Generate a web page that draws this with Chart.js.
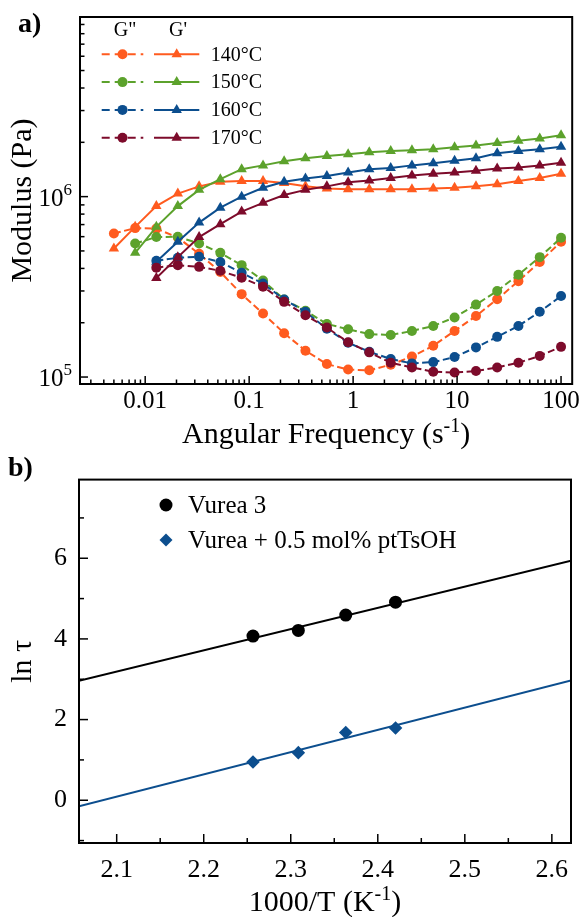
<!DOCTYPE html>
<html>
<head>
<meta charset="utf-8">
<title>Frequency sweep and Arrhenius plot</title>
<script src="https://cdn.jsdelivr.net/npm/chart.js@4.4.1/dist/chart.umd.min.js"></script>
<style>
  html, body { margin: 0; padding: 0; background: #fff; }
  #figure { position: relative; width: 582px; height: 917px; overflow: hidden; }
  #figure canvas { position: absolute; left: 0; }
  #sweep { top: 0; }
  #arrhenius { top: 452px; }
</style>
</head>
<body>
<div id="figure">
  <canvas id="sweep" width="582" height="452"></canvas>
  <canvas id="arrhenius" width="582" height="465"></canvas>
</div>
<script>
/* =====================
Data
===================== */

// angular frequency sweep, 22 points from 0.005 to 100 rad/s
var freq = [0.005, 0.00801, 0.0128, 0.0206, 0.0330, 0.0528, 0.0847, 0.136, 0.217, 0.348, 0.559,
            0.895, 1.43, 2.30, 3.68, 5.90, 9.46, 15.2, 24.3, 38.9, 62.4, 100];

var temps = ['140°C', '150°C', '160°C', '170°C'];
var tempColors = ['#ff5b1f', '#5ca22c', '#0c4e8e', '#7d0b2b'];
// index into freq of the first measured point at each temperature
var firstPoint = [0, 1, 2, 2];

// storage modulus G' (Pa)
var gp140 = [5.16e5, 6.80e5, 8.86e5, 1.04e6, 1.14e6, 1.21e6, 1.22e6, 1.22e6, 1.19e6, 1.14e6, 1.11e6,
             1.10e6, 1.10e6, 1.10e6, 1.10e6, 1.11e6, 1.12e6, 1.14e6, 1.17e6, 1.22e6, 1.27e6, 1.34e6];
var gp150 = [4.88e5, 6.80e5, 8.86e5, 1.09e6, 1.25e6, 1.42e6, 1.49e6, 1.57e6, 1.63e6, 1.68e6, 1.72e6,
             1.76e6, 1.79e6, 1.81e6, 1.83e6, 1.88e6, 1.92e6, 1.98e6, 2.04e6, 2.10e6, 2.19e6];
var gp160 = [4.35e5, 5.62e5, 7.18e5, 8.69e5, 1.00e6, 1.12e6, 1.21e6, 1.26e6, 1.30e6, 1.36e6,
             1.42e6, 1.44e6, 1.49e6, 1.53e6, 1.58e6, 1.63e6, 1.74e6, 1.79e6, 1.83e6, 1.89e6];
var gp170 = [3.54e5, 4.62e5, 5.97e5, 7.04e5, 8.26e5, 9.24e5, 1.02e6, 1.09e6, 1.14e6, 1.20e6,
             1.23e6, 1.27e6, 1.31e6, 1.34e6, 1.36e6, 1.39e6, 1.43e6, 1.45e6, 1.49e6, 1.54e6];

// loss modulus G'' (Pa)
var gpp140 = [6.25e5, 6.69e5, 6.65e5, 5.93e5, 4.82e5, 3.82e5, 2.88e5, 2.25e5, 1.75e5, 1.40e5, 1.18e5,
              1.10e5, 1.09e5, 1.17e5, 1.30e5, 1.49e5, 1.80e5, 2.18e5, 2.70e5, 3.40e5, 4.34e5, 5.62e5];
var gpp150 = [5.50e5, 5.97e5, 5.99e5, 5.50e5, 4.88e5, 4.17e5, 3.43e5, 2.69e5, 2.33e5, 1.97e5, 1.84e5,
              1.73e5, 1.71e5, 1.80e5, 1.92e5, 2.14e5, 2.52e5, 3.00e5, 3.69e5, 4.62e5, 5.91e5];
var gpp160 = [4.41e5, 4.58e5, 4.64e5, 4.34e5, 3.78e5, 3.30e5, 2.69e5, 2.30e5, 1.85e5, 1.55e5,
              1.38e5, 1.26e5, 1.19e5, 1.21e5, 1.29e5, 1.46e5, 1.67e5, 1.92e5, 2.30e5, 2.81e5];
var gpp170 = [4.04e5, 4.17e5, 4.08e5, 3.88e5, 3.55e5, 3.17e5, 2.61e5, 2.20e5, 1.88e5, 1.56e5,
              1.37e5, 1.20e5, 1.13e5, 1.07e5, 1.06e5, 1.08e5, 1.13e5, 1.20e5, 1.31e5, 1.47e5];

var xTicksA = [0.01, 0.1, 1, 10, 100];
var xTickLabelsA = ['0.01', '0.1', '1', '10', '100'];
var yTicksA = [1e5, 1e6];
var yTickExpA = ['5', '6'];

// relaxation times vs inverse temperature
var invT = [2.2566, 2.3087, 2.3632, 2.4204];
var lnTauVurea = [4.07, 4.21, 4.59, 4.91];
var lnTauAcid = [0.95, 1.18, 1.68, 1.79];
// linear fits, evaluated at the axis limits
var fitX = [2.0567, 2.622];
var fitVurea = [2.96, 5.94];
var fitAcid = [-0.15, 2.97];
var seriesB = ['Vurea 3', 'Vurea + 0.5 mol% ptTsOH'];
var colorsB = ['#000000', '#0c4e8e'];

var xTicksB = [2.1, 2.2, 2.3, 2.4, 2.5, 2.6];
var xTickLabelsB = ['2.1', '2.2', '2.3', '2.4', '2.5', '2.6'];
var xMinorB = [2.15, 2.25, 2.35, 2.45, 2.55];
var yTicksB = [0, 2, 4, 6];
var yTickLabelsB = ['0', '2', '4', '6'];
var yMinorB = [-1, 1, 3, 5, 7];


/* =====================
Helpers
===================== */

var SERIF = "'Liberation Serif', 'Times New Roman', serif";

function line(ctx, x1, y1, x2, y2) {
  ctx.beginPath();
  ctx.moveTo(x1, y1);
  ctx.lineTo(x2, y2);
  ctx.stroke();
}

// all decade and sub-decade tick values inside [min, max]
function logTicks(min, max) {
  var out = [];
  for (var e = Math.floor(Math.log10(min)); e <= Math.ceil(Math.log10(max)); e++) {
    for (var m = 1; m <= 9; m++) {
      var v = m * Math.pow(10, e);
      if (v >= min && v <= max) out.push({v: v, major: m === 1});
    }
  }
  return out;
}

// axis title with an optional superscript part
function drawTitle(ctx, text, sup, tail, px, py, size, rotate) {
  ctx.save();
  ctx.translate(px, py);
  if (rotate) ctx.rotate(-Math.PI / 2);
  var big = size + 'px ' + SERIF;
  var small = Math.round(size * 0.66) + 'px ' + SERIF;
  ctx.font = big;
  var w1 = ctx.measureText(text).width;
  var w3 = ctx.measureText(tail).width;
  ctx.font = small;
  var w2 = sup ? ctx.measureText(sup).width : 0;
  var x = -(w1 + w2 + w3) / 2;
  ctx.fillStyle = '#000';
  ctx.textAlign = 'left';
  ctx.textBaseline = 'alphabetic';
  ctx.font = big;
  ctx.fillText(text, x, 0);
  if (sup) {
    ctx.font = small;
    ctx.fillText(sup, x + w1, -size * 0.36);
  }
  ctx.font = big;
  ctx.fillText(tail, x + w1 + w2, 0);
  ctx.restore();
}

function drawFrame(ctx, a) {
  ctx.strokeStyle = '#000';
  ctx.lineWidth = 2;
  ctx.strokeRect(a.left, a.top, a.right - a.left, a.bottom - a.top);
}


/* =====================
a) frequency sweep
===================== */

var gpAll = [gp140, gp150, gp160, gp170];
var gppAll = [gpp140, gpp150, gpp160, gpp170];

var sweepSets = [];
temps.forEach(function (t, i) {
  var f = freq.slice(firstPoint[i]);
  sweepSets.push({
    label: 'G\'\' ' + t,
    data: f.map(function (v, j) { return {x: v, y: gppAll[i][j]}; }),
    showLine: true,
    borderColor: tempColors[i],
    backgroundColor: tempColors[i],
    borderWidth: 2,
    borderDash: [7, 3.5],
    pointStyle: 'circle',
    pointRadius: 5,
    pointBorderWidth: 0
  });
  sweepSets.push({
    label: 'G\' ' + t,
    data: f.map(function (v, j) { return {x: v, y: gpAll[i][j]}; }),
    showLine: true,
    borderColor: tempColors[i],
    backgroundColor: tempColors[i],
    borderWidth: 2,
    pointStyle: 'triangle',
    pointRadius: 6,
    pointBorderWidth: 0
  });
});
// later temperatures sit on top
sweepSets.forEach(function (d, i) { d.order = -i; });

var sweepDecor = {
  id: 'sweepDecor',
  afterDraw: function (chart) {
    var ctx = chart.ctx, a = chart.chartArea;
    var xs = chart.scales.x, ys = chart.scales.y;
    ctx.save();

    // inward ticks on bottom and left spines
    ctx.strokeStyle = '#000';
    ctx.lineWidth = 1.5;
    logTicks(xs.min, xs.max).forEach(function (t) {
      var px = xs.getPixelForValue(t.v);
      line(ctx, px, a.bottom, px, a.bottom - (t.major ? 8 : 4.5));
    });
    logTicks(ys.min, ys.max).forEach(function (t) {
      var py = ys.getPixelForValue(t.v);
      line(ctx, a.left, py, a.left + (t.major ? 8 : 4.5), py);
    });
    drawFrame(ctx, a);

    // y tick labels as powers of ten
    ctx.fillStyle = '#000';
    ctx.textBaseline = 'alphabetic';
    yTicksA.forEach(function (v, i) {
      var py = ys.getPixelForValue(v);
      ctx.font = '17px ' + SERIF;
      var ws = ctx.measureText(yTickExpA[i]).width;
      var right = a.left - 8;
      ctx.textAlign = 'left';
      ctx.fillText(yTickExpA[i], right - ws, py - 2);
      ctx.font = '25px ' + SERIF;
      ctx.textAlign = 'right';
      ctx.fillText('10', right - ws, py + 9);
    });

    drawTitle(ctx, 'Angular Frequency (s', '-1', ')', (a.left + a.right) / 2, 443, 30, false);
    drawTitle(ctx, 'Modulus (Pa)', '', '', 31, (a.top + a.bottom) / 2, 30, true);

    ctx.font = 'bold 28px ' + SERIF;
    ctx.textAlign = 'left';
    ctx.fillText('a)', 18, 32);

    // two-column legend: G'' dashed circles, G' solid triangles
    ctx.font = '20px ' + SERIF;
    ctx.textAlign = 'center';
    ctx.textBaseline = 'middle';
    ctx.fillText('G"', 125, 31);
    ctx.fillText('G\'', 178, 31);
    temps.forEach(function (t, i) {
      var y = 54.3 + i * 27.8;
      ctx.strokeStyle = tempColors[i];
      ctx.fillStyle = tempColors[i];
      ctx.lineWidth = 2;
      ctx.setLineDash([8, 5]);
      line(ctx, 101.7, y, 143.3, y);
      ctx.setLineDash([]);
      Chart.helpers.drawPoint(ctx, {pointStyle: 'circle', radius: 5, borderWidth: 0}, 122.5, y);
      line(ctx, 154, y, 199.3, y);
      Chart.helpers.drawPoint(ctx, {pointStyle: 'triangle', radius: 6, borderWidth: 0}, 176.7, y);
      ctx.fillStyle = '#000';
      ctx.textAlign = 'left';
      ctx.fillText(t, 210.7, y + 1);
    });

    ctx.restore();
  }
};

new Chart(document.getElementById('sweep'), {
  type: 'scatter',
  data: {datasets: sweepSets},
  options: {
    responsive: false,
    animation: false,
    devicePixelRatio: 1,
    layout: {padding: {top: 17, right: 9, left: 0, bottom: 0}},
    plugins: {legend: {display: false}, tooltip: {enabled: false}},
    scales: {
      x: {
        type: 'logarithmic',
        min: 0.00236,
        max: 128,
        afterBuildTicks: function (s) { s.ticks = xTicksA.map(function (v) { return {value: v}; }); },
        afterFit: function (s) { s.height = 68; },
        ticks: {
          callback: function (v) { return xTickLabelsA[xTicksA.indexOf(v)]; },
          color: '#000',
          font: {family: SERIF, size: 25},
          padding: 2,
          maxRotation: 0,
          autoSkip: false
        },
        grid: {display: false, drawTicks: false},
        border: {display: false}
      },
      y: {
        type: 'logarithmic',
        min: 9.15e4,
        max: 9.9e6,
        afterFit: function (s) { s.width = 80; },
        ticks: {display: false},
        grid: {display: false, drawTicks: false},
        border: {display: false}
      }
    }
  },
  plugins: [sweepDecor]
});


/* =====================
b) ln tau vs 1000/T
===================== */

var arrSets = [
  {
    label: seriesB[0],
    data: invT.map(function (v, i) { return {x: v, y: lnTauVurea[i]}; }),
    backgroundColor: colorsB[0],
    pointStyle: 'circle',
    pointRadius: 6.5,
    pointBorderWidth: 0,
    order: 0
  },
  {
    label: seriesB[1],
    data: invT.map(function (v, i) { return {x: v, y: lnTauAcid[i]}; }),
    backgroundColor: colorsB[1],
    pointStyle: 'rectRot',
    pointRadius: 6.8,
    pointBorderWidth: 0,
    order: 1
  },
  {
    label: 'fit ' + seriesB[0],
    data: fitX.map(function (v, i) { return {x: v, y: fitVurea[i]}; }),
    showLine: true,
    borderColor: colorsB[0],
    borderWidth: 2,
    pointRadius: 0,
    order: 2
  },
  {
    label: 'fit ' + seriesB[1],
    data: fitX.map(function (v, i) { return {x: v, y: fitAcid[i]}; }),
    showLine: true,
    borderColor: colorsB[1],
    borderWidth: 2,
    pointRadius: 0,
    order: 3
  }
];

var arrDecor = {
  id: 'arrDecor',
  afterDraw: function (chart) {
    var ctx = chart.ctx, a = chart.chartArea;
    var xs = chart.scales.x, ys = chart.scales.y;
    ctx.save();

    ctx.strokeStyle = '#000';
    ctx.lineWidth = 1.5;
    xTicksB.forEach(function (v) { var p = xs.getPixelForValue(v); line(ctx, p, a.bottom, p, a.bottom - 9); });
    xMinorB.forEach(function (v) { var p = xs.getPixelForValue(v); line(ctx, p, a.bottom, p, a.bottom - 5); });
    yTicksB.forEach(function (v) { var p = ys.getPixelForValue(v); line(ctx, a.left, p, a.left + 9, p); });
    yMinorB.forEach(function (v) { var p = ys.getPixelForValue(v); line(ctx, a.left, p, a.left + 5, p); });
    drawFrame(ctx, a);

    drawTitle(ctx, '1000/T (K', '-1', ')', (a.left + a.right) / 2, 459, 30, false);
    drawTitle(ctx, 'ln τ', '', '', 31, (a.top + a.bottom) / 2, 30, true);

    ctx.fillStyle = '#000';
    ctx.font = 'bold 28px ' + SERIF;
    ctx.textAlign = 'left';
    ctx.textBaseline = 'alphabetic';
    ctx.fillText('b)', 8, 24);

    // legend
    var rows = [{style: 'circle', r: 6.5}, {style: 'rectRot', r: 6.5}];
    ctx.font = '25px ' + SERIF;
    ctx.textBaseline = 'middle';
    seriesB.forEach(function (name, i) {
      var y = 53 + i * 35;
      ctx.fillStyle = colorsB[i];
      Chart.helpers.drawPoint(ctx, {pointStyle: rows[i].style, radius: rows[i].r, borderWidth: 0}, 166, y);
      ctx.fillStyle = '#000';
      ctx.fillText(name, 188, y + 1);
    });

    ctx.restore();
  }
};

new Chart(document.getElementById('arrhenius'), {
  type: 'scatter',
  data: {datasets: arrSets},
  options: {
    responsive: false,
    animation: false,
    devicePixelRatio: 1,
    layout: {padding: {top: 24, right: 11, left: 0, bottom: 0}},
    plugins: {legend: {display: false}, tooltip: {enabled: false}},
    scales: {
      x: {
        type: 'linear',
        min: 2.0567,
        max: 2.622,
        afterBuildTicks: function (s) { s.ticks = xTicksB.map(function (v) { return {value: v}; }); },
        afterFit: function (s) { s.height = 74; },
        ticks: {
          callback: function (v) { return xTickLabelsB[xTicksB.indexOf(v)]; },
          color: '#000',
          font: {family: SERIF, size: 26},
          padding: 12,
          maxRotation: 0,
          autoSkip: false
        },
        grid: {display: false, drawTicks: false},
        border: {display: false}
      },
      y: {
        type: 'linear',
        min: -1.06,
        max: 7.95,
        afterBuildTicks: function (s) { s.ticks = yTicksB.map(function (v) { return {value: v}; }); },
        afterFit: function (s) { s.width = 79; },
        ticks: {
          callback: function (v) { return yTickLabelsB[yTicksB.indexOf(v)]; },
          color: '#000',
          font: {family: SERIF, size: 26},
          padding: 12
        },
        grid: {display: false, drawTicks: false},
        border: {display: false}
      }
    }
  },
  plugins: [arrDecor]
});
</script>
</body>
</html>
